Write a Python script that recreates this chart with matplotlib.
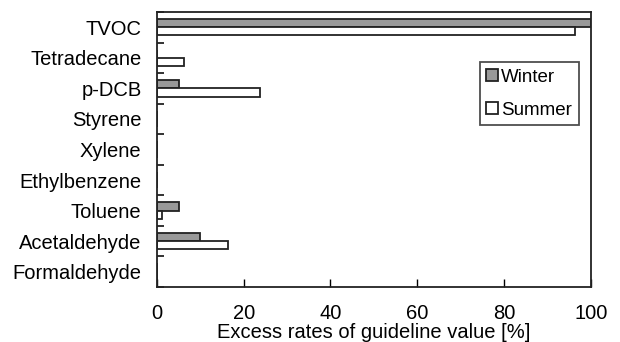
import numpy as np
import matplotlib.pyplot as plt
from matplotlib.ticker import FixedLocator

plt.rcParams['font.family'] = ['Liberation Sans', 'DejaVu Sans']

compounds = ['Formaldehyde', 'Acetaldehyde', 'Toluene', 'Ethylbenzene', 'Xylene',
             'Styrene', 'p-DCB', 'Tetradecane', 'TVOC']
winter = [0, 10, 5, 0, 0, 0, 5, 0, 100]
summer = [0, 16.5, 1.2, 0, 0, 0, 23.7, 6.3, 96.3]

fig = plt.figure(figsize=(6.2, 3.42), dpi=100)
ax = fig.add_axes([0.253, 0.161, 0.700, 0.804])

y = np.arange(len(compounds))
h = 0.27
ax.barh(y + h / 2, winter, height=h, color='#999999', edgecolor='#222222',
        linewidth=1.3, label='Winter')
ax.barh(y - h / 2, summer, height=h, color='white', edgecolor='#222222',
        linewidth=1.3, label='Summer')

ax.set_xlim(0, 100)
ax.set_ylim(-0.5, len(compounds) - 0.5)
ax.set_xticks(np.arange(0, 101, 20))
ax.set_yticks(y)
ax.set_yticklabels(compounds)
ax.yaxis.set_minor_locator(FixedLocator(np.arange(-0.5, len(compounds), 1)))
ax.tick_params(axis='y', which='major', length=0, labelsize=14.5, pad=11)
ax.tick_params(axis='y', which='minor', direction='in', length=5, width=1.3, color='#222222')
ax.tick_params(axis='x', direction='in', length=6, width=1, labelsize=14.5, pad=12)
ax.tick_params(top=False, right=False)
for s in ax.spines.values():
    s.set_linewidth(1.3)
    s.set_color('#222222')

ax.set_xlabel('Excess rates of guideline value [%]', fontsize=14.5, labelpad=0)

leg = ax.legend(loc='upper right', bbox_to_anchor=(0.972, 0.818), fontsize=13.5,
                frameon=True, fancybox=False, edgecolor='#222222',
                handlelength=0.6, handleheight=0.6, handletextpad=0.2,
                labelspacing=0.85, borderpad=0.35, borderaxespad=0)
leg.get_frame().set_linewidth(1.3)

fig.savefig('out.png', dpi=100)
